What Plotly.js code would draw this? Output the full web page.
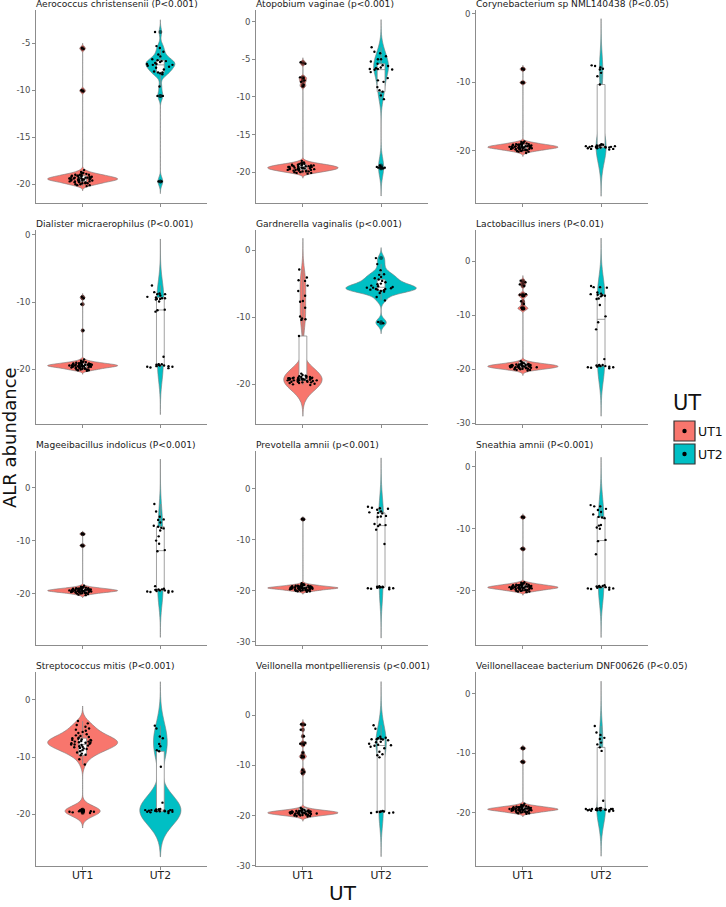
<!DOCTYPE html>
<html><head><meta charset="utf-8">
<script src="https://cdn.plot.ly/plotly-3.0.1.min.js"></script>
<style>html,body{margin:0;padding:0;background:#fff}</style>
</head><body><div id="chart" style="width:726px;height:907px"></div>
<script>
const titles = [
  "Aerococcus christensenii (P<0.001)", "Atopobium vaginae (p<0.001)", "Corynebacterium sp NML140438 (P<0.05)",
  "Dialister micraerophilus (P<0.001)", "Gardnerella vaginalis (p<0.001)", "Lactobacillus iners (P<0.01)",
  "Mageeibacillus indolicus (P<0.001)", "Prevotella amnii (p<0.001)", "Sneathia amnii (P<0.001)",
  "Streptococcus mitis (P<0.001)", "Veillonella montpellierensis (p<0.001)", "Veillonellaceae bacterium DNF00626 (P<0.05)"
];
const groups = ["UT1", "UT2"];

const ut1_1 = [-5.5,-5.6,-10.0,-10.1,-18.5,-18.7,-18.8,-18.8,-18.9,-18.9,-19.0,-19.0,-19.0,-19.1,-19.1,-19.1,-19.1,-19.2,-19.2,-19.2,-19.2,-19.3,-19.3,-19.3,-19.3,-19.3,-19.4,-19.4,-19.4,-19.4,-19.4,-19.4,-19.5,-19.5,-19.5,-19.5,-19.5,-19.5,-19.6,-19.6,-19.6,-19.6,-19.6,-19.7,-19.7,-19.7,-19.7,-19.8,-19.8,-19.8,-19.9,-19.9,-19.9,-20.0,-20.0,-20.1,-20.1,-20.2];
const ut1_2 = [-5.4,-5.6,-7.4,-7.5,-7.8,-8.0,-8.4,-8.6,-18.5,-18.7,-18.8,-18.8,-18.9,-18.9,-19.0,-19.0,-19.0,-19.1,-19.1,-19.1,-19.1,-19.2,-19.2,-19.2,-19.2,-19.3,-19.3,-19.3,-19.3,-19.4,-19.4,-19.4,-19.4,-19.4,-19.5,-19.5,-19.5,-19.5,-19.5,-19.6,-19.6,-19.6,-19.6,-19.7,-19.7,-19.7,-19.7,-19.8,-19.8,-19.8,-19.9,-19.9,-19.9,-20.0,-20.0,-20.1,-20.1,-20.2];
const ut1_3 = [-8.0,-8.1,-10.0,-10.05,-18.6,-18.7,-18.8,-18.8,-18.9,-18.9,-19.0,-19.0,-19.0,-19.1,-19.1,-19.1,-19.1,-19.2,-19.2,-19.2,-19.2,-19.3,-19.3,-19.3,-19.3,-19.3,-19.4,-19.4,-19.4,-19.4,-19.4,-19.4,-19.5,-19.5,-19.5,-19.5,-19.5,-19.5,-19.6,-19.6,-19.6,-19.6,-19.6,-19.7,-19.7,-19.7,-19.7,-19.8,-19.8,-19.8,-19.9,-19.9,-19.9,-20.0,-20.0,-20.1,-20.1,-20.3];
const ut1_4 = [-9.2,-9.4,-10.3,-14.2,-18.5,-18.7,-18.8,-18.9,-18.9,-18.9,-19.0,-19.0,-19.1,-19.1,-19.1,-19.1,-19.2,-19.2,-19.2,-19.2,-19.3,-19.3,-19.3,-19.3,-19.3,-19.3,-19.4,-19.4,-19.4,-19.4,-19.4,-19.5,-19.5,-19.5,-19.5,-19.5,-19.5,-19.6,-19.6,-19.6,-19.6,-19.6,-19.7,-19.7,-19.7,-19.7,-19.8,-19.8,-19.8,-19.9,-19.9,-20.0,-20.0,-20.0,-20.1,-20.1,-20.2,-19.4];
const ut1_5 = [-2.9,-4.1,-4.5,-4.6,-5.3,-6.1,-6.8,-7.6,-7.7,-8.6,-9.9,-10.2,-10.3,-10.4,-12.8,-18.4,-18.6,-18.7,-18.8,-18.8,-18.9,-18.9,-19.0,-19.0,-19.0,-19.1,-19.1,-19.1,-19.1,-19.2,-19.2,-19.2,-19.2,-19.2,-19.3,-19.3,-19.3,-19.3,-19.3,-19.4,-19.4,-19.4,-19.4,-19.5,-19.5,-19.5,-19.6,-19.6,-19.6,-19.7,-19.7,-19.8,-19.8,-19.9,-20.0,-20.1,-19.2,-19.0];
const ut1_6 = [-3.6,-3.9,-4.3,-4.6,-6.1,-6.2,-6.4,-6.4,-7.4,-7.9,-8.6,-8.7,-8.8,-8.8,-18.5,-18.7,-18.8,-18.9,-19.0,-19.0,-19.0,-19.1,-19.1,-19.1,-19.2,-19.2,-19.2,-19.3,-19.3,-19.3,-19.3,-19.4,-19.4,-19.4,-19.4,-19.4,-19.5,-19.5,-19.5,-19.5,-19.5,-19.6,-19.6,-19.6,-19.6,-19.7,-19.7,-19.7,-19.8,-19.8,-19.8,-19.9,-19.9,-20.0,-20.0,-20.1,-20.1,-20.2];
const ut1_7 = [-8.7,-8.8,-10.9,-11.0,-18.5,-18.7,-18.8,-18.8,-18.9,-18.9,-19.0,-19.0,-19.0,-19.1,-19.1,-19.1,-19.1,-19.2,-19.2,-19.2,-19.2,-19.3,-19.3,-19.3,-19.3,-19.3,-19.4,-19.4,-19.4,-19.4,-19.4,-19.4,-19.5,-19.5,-19.5,-19.5,-19.5,-19.5,-19.6,-19.6,-19.6,-19.6,-19.6,-19.7,-19.7,-19.7,-19.7,-19.8,-19.8,-19.8,-19.9,-19.9,-19.9,-20.0,-20.0,-20.1,-20.2,-20.3];
const ut1_8 = [-5.9,-6.0,-18.5,-18.7,-18.8,-18.8,-18.9,-18.9,-19.0,-19.0,-19.0,-19.1,-19.1,-19.1,-19.1,-19.2,-19.2,-19.2,-19.2,-19.3,-19.3,-19.3,-19.3,-19.3,-19.4,-19.4,-19.4,-19.4,-19.4,-19.4,-19.5,-19.5,-19.5,-19.5,-19.5,-19.5,-19.6,-19.6,-19.6,-19.6,-19.6,-19.7,-19.7,-19.7,-19.7,-19.8,-19.8,-19.8,-19.9,-19.9,-19.9,-20.0,-20.0,-20.1,-20.1,-20.2,-19.4,-19.5];
const ut1_9 = [-8.1,-8.2,-13.2,-13.3,-18.6,-18.7,-18.8,-18.8,-18.9,-18.9,-19.0,-19.0,-19.0,-19.1,-19.1,-19.1,-19.1,-19.2,-19.2,-19.2,-19.2,-19.3,-19.3,-19.3,-19.3,-19.3,-19.4,-19.4,-19.4,-19.4,-19.4,-19.4,-19.5,-19.5,-19.5,-19.5,-19.5,-19.5,-19.6,-19.6,-19.6,-19.6,-19.6,-19.7,-19.7,-19.7,-19.7,-19.8,-19.8,-19.8,-19.9,-19.9,-19.9,-20.0,-20.0,-20.1,-20.1,-20.2];
const ut1_10 = [-19.2,-19.3,-19.4,-19.4,-19.5,-19.5,-19.5,-19.6,-19.6,-19.7,-19.8,-19.3,-11.3,-10.4,-9.7,-9.6,-9.4,-9.2,-9.0,-8.8,-8.6,-8.5,-8.4,-8.3,-8.2,-8.1,-8.0,-7.9,-7.8,-7.8,-7.7,-7.6,-7.5,-7.5,-7.4,-7.3,-7.3,-7.2,-7.1,-7.0,-7.0,-6.9,-6.8,-6.7,-6.6,-6.5,-6.3,-6.2,-6.0,-5.8,-5.6,-5.4,-5.2,-5.0,-4.7,-4.4,-4.1,-3.7];
const ut1_11 = [-1.8,-1.9,-2.9,-4.2,-5.5,-5.7,-5.9,-7.5,-8.1,-8.3,-8.4,-10.9,-11.3,-11.6,-18.5,-18.7,-18.8,-18.9,-19.0,-19.0,-19.0,-19.1,-19.1,-19.1,-19.2,-19.2,-19.2,-19.3,-19.3,-19.3,-19.3,-19.4,-19.4,-19.4,-19.4,-19.4,-19.5,-19.5,-19.5,-19.5,-19.5,-19.6,-19.6,-19.6,-19.6,-19.7,-19.7,-19.7,-19.8,-19.8,-19.8,-19.9,-19.9,-20.0,-20.0,-20.1,-20.1,-20.2];
const ut1_12 = [-9.1,-9.2,-11.4,-11.5,-18.5,-18.7,-18.8,-18.8,-18.9,-18.9,-19.0,-19.0,-19.0,-19.1,-19.1,-19.1,-19.1,-19.2,-19.2,-19.2,-19.2,-19.3,-19.3,-19.3,-19.3,-19.3,-19.4,-19.4,-19.4,-19.4,-19.4,-19.4,-19.5,-19.5,-19.5,-19.5,-19.5,-19.5,-19.6,-19.6,-19.6,-19.6,-19.6,-19.7,-19.7,-19.7,-19.7,-19.8,-19.8,-19.8,-19.9,-19.9,-19.9,-20.0,-20.0,-20.1,-20.1,-20.2];

const ut2_1 = [-3.8,-5.3,-5.5,-5.9,-6.2,-6.4,-6.7,-6.8,-6.9,-6.9,-7.0,-7.1,-7.2,-7.3,-7.3,-7.4,-7.5,-7.6,-7.8,-8.0,-8.1,-8.1,-8.2,-8.3,-9.6,-10.6,-10.6,-19.7,-19.7,-7.2];
const ut2_2 = [-3.4,-4.0,-4.2,-4.6,-5.0,-5.0,-5.3,-5.6,-5.8,-5.9,-6.1,-6.2,-6.3,-6.3,-6.35,-6.4,-6.7,-7.5,-7.8,-8.0,-8.7,-9.1,-9.3,-9.8,-10.3,-19.1,-19.3,-19.4,-19.4,-19.5];
const ut2_3 = [-7.5,-7.6,-7.8,-8.0,-8.1,-8.6,-9.1,-10.3,-19.0,-19.1,-19.1,-19.2,-19.2,-19.3,-19.3,-19.3,-19.4,-19.4,-19.4,-19.4,-19.5,-19.5,-19.5,-19.6,-19.6,-19.7,-19.7,-19.8,-19.3,-19.5];
const ut2_4 = [-18.1,-19.2,-19.2,-19.3,-19.3,-19.4,-19.4,-19.5,-19.5,-19.6,-19.6,-19.7,-19.8,-11.4,-11.2,-11.1,-9.9,-9.6,-9.5,-9.5,-9.4,-9.4,-9.3,-9.2,-9.0,-8.8,-8.8,-8.7,-8.5,-7.5];
const ut2_5 = [-10.9,-10.7,-7.5,-7.0,-6.4,-6.2,-6.1,-6.0,-5.9,-5.9,-5.8,-5.8,-5.7,-5.6,-5.6,-5.5,-5.4,-5.3,-5.1,-5.0,-4.8,-4.6,-4.4,-4.2,-4.0,-3.7,-3.6,-3.0,-2.1,-1.2];
const ut2_6 = [-19.2,-19.3,-19.3,-19.4,-19.4,-19.5,-19.5,-19.6,-19.6,-19.7,-19.8,-19.2,-18.1,-12.6,-11.3,-10.2,-8.1,-7.0,-6.9,-6.5,-6.4,-6.3,-6.2,-6.1,-6.0,-5.8,-4.9,-4.8,-4.8,-4.6];
const ut2_7 = [-18.6,-19.1,-19.2,-19.2,-19.3,-19.3,-19.4,-19.4,-19.5,-19.5,-19.6,-19.6,-19.7,-19.8,-12.0,-11.8,-10.6,-10.0,-9.2,-8.1,-7.7,-7.6,-7.4,-7.2,-6.6,-6.1,-6.0,-5.5,-4.5,-3.1];
const ut2_8 = [-19.1,-19.2,-19.2,-19.3,-19.3,-19.4,-19.4,-19.5,-19.5,-19.6,-19.7,-19.3,-10.8,-8.0,-7.3,-7.1,-7.0,-6.9,-5.5,-5.4,-5.3,-4.8,-4.7,-4.6,-4.4,-4.1,-3.9,-3.8,-3.7,-3.5];
const ut2_9 = [-19.1,-19.2,-19.2,-19.3,-19.3,-19.4,-19.4,-19.5,-19.5,-19.6,-19.6,-19.7,-19.8,-14.1,-12.0,-11.8,-10.0,-9.8,-9.5,-9.4,-8.3,-8.2,-8.1,-7.7,-7.3,-7.0,-6.8,-6.4,-6.4,-6.2];
const ut2_10 = [-18.0,-19.1,-19.2,-19.2,-19.2,-19.3,-19.3,-19.3,-19.3,-19.4,-19.4,-19.4,-19.4,-19.5,-19.5,-19.5,-19.5,-19.6,-19.6,-19.7,-19.8,-11.7,-9.0,-8.8,-8.1,-7.7,-6.7,-6.4,-5.0,-4.5];
const ut2_11 = [-19.1,-19.2,-19.2,-19.3,-19.3,-19.4,-19.5,-19.5,-8.4,-8.0,-7.8,-7.3,-6.6,-6.3,-6.1,-6.0,-5.9,-5.7,-5.4,-5.3,-5.0,-4.85,-4.8,-4.8,-4.7,-4.6,-4.5,-4.3,-2.7,-2.0];
const ut2_12 = [-18.0,-19.2,-19.3,-19.3,-19.4,-19.4,-19.4,-19.5,-19.5,-19.5,-19.5,-19.6,-19.6,-19.6,-19.7,-19.7,-19.8,-19.3,-19.4,-19.5,-19.6,-9.6,-9.0,-8.5,-8.2,-7.6,-7.4,-6.9,-6.5,-5.4];

const yRanges = [[-22.0,-1.46],[-24.1,1.55],[-27.6,0.58],[-28.1,0.74],[-25.9,2.98],[-30.1,5.76],
                 [-29.7,6.9],[-30.65,7.45],[-28.7,2.5],[-29.1,4.9],[-30.05,8.6],[-29.0,3.7]];
const yTicks = [[-20,-15,-10,-5],[-20,-15,-10,-5,0],[-20,-10,0],[-20,-10,0],[-20,-10,0],[-30,-20,-10,0],
                [-20,-10,0],[-30,-20,-10,0],[-20,-10,0],[-20,-10,0],[-30,-20,-10,0],[-20,-10,0]];

const UT1 = [ut1_1,ut1_2,ut1_3,ut1_4,ut1_5,ut1_6,ut1_7,ut1_8,ut1_9,ut1_10,ut1_11,ut1_12];
const UT2 = [ut2_1,ut2_2,ut2_3,ut2_4,ut2_5,ut2_6,ut2_7,ut2_8,ut2_9,ut2_10,ut2_11,ut2_12];
const fills = {UT1: "#F8766D", UT2: "#00BFC4"};

function q7(s, p){ const h=(s.length-1)*p, lo=Math.floor(h), hi=Math.min(lo+1,s.length-1); return s[lo]+(h-lo)*(s[hi]-s[lo]); }
function nrd0(v){
  const n=v.length, m=v.reduce((a,b)=>a+b,0)/n;
  const sd=Math.sqrt(v.reduce((a,b)=>a+(b-m)*(b-m),0)/(n-1));
  const s=[...v].sort((a,b)=>a-b);
  let lo=Math.min(sd,(q7(s,0.75)-q7(s,0.25))/1.34);
  if(!lo) lo = sd || Math.abs(s[0]) || 1;
  return 0.9*lo*Math.pow(n,-0.2);
}
function kdePeak(v, bw, span){
  const n=Math.ceil((span[1]-span[0])/(bw/3)), step=(span[1]-span[0])/n, f=1/(v.length*bw*Math.sqrt(2*Math.PI));
  let best=0;
  for(let k=0;k<=n;k++){ const t=span[0]+k*step; let s=0; for(const x of v){ const u=(t-x)/bw; s+=Math.exp(-0.5*u*u);} best=Math.max(best,f*s); }
  return best;
}

const W=726, H=907;
const colL=[36,256,476], colR=[207,428,648];
const rowT=[10,230,451,672], rowB=[203,424,645,866];
const axisCol="#8c8c8c";

const violins=[], boxes=[], jits=[];
const layout = {
  width:W, height:H, margin:{l:0,r:0,t:0,b:0}, paper_bgcolor:"#fff", plot_bgcolor:"#fff",
  font:{family:"DejaVu Sans", color:"#222"}, showlegend:false, hovermode:false,
  violinmode:"overlay", boxmode:"overlay", annotations:[], shapes:[]
};

for(let i=0;i<12;i++){
  const r=Math.floor(i/3), c=i%3, k=i+1;
  const xa = k===1?"x":"x"+k, ya = k===1?"y":"y"+k;
  layout[k===1?"xaxis":"xaxis"+k] = {
    domain:[colL[c]/W, colR[c]/W], anchor:ya, type:"category", categoryorder:"array", categoryarray:groups,
    range:[-0.6,1.6], showline:true, linecolor:axisCol, linewidth:1, ticks:"outside", ticklen:3, tickcolor:axisCol,
    showgrid:false, zeroline:false, showticklabels:r===3, tickfont:{size:10.8,color:"#222"},
    ticklabelstandoff:-4, fixedrange:true
  };
  layout[k===1?"yaxis":"yaxis"+k] = {
    domain:[1-rowB[r]/H, 1-rowT[r]/H], anchor:xa, range:yRanges[i], tickmode:"array",
    tickvals:yTicks[i], ticktext:yTicks[i].map(String), showline:true, linecolor:axisCol, linewidth:1,
    ticks:"outside", ticklen:3, tickcolor:axisCol, showgrid:false, zeroline:false,
    tickfont:{size:8.5,color:"#4d4d4d"}, fixedrange:true
  };
  layout.annotations.push({text:titles[i].replace(/</g,"&lt;"), x:(colL[c]-2)/W, y:1-(rowT[r]-6)/H,
    xref:"paper", yref:"paper", xanchor:"left", yanchor:"middle", showarrow:false,
    font:{size:9.1,color:"#1a1a1a"}});
  const info = groups.map((g,gi)=>{
    const vals = gi===0?UT1[i]:UT2[i];
    const bw = nrd0(vals);
    const span=[Math.min(...vals)-3*bw, Math.max(...vals)+3*bw];
    return {g, vals, bw, span, peak:kdePeak(vals,bw,span)};
  });
  const pmax = Math.max(...info.map(d=>d.peak));
  info.forEach(d=>{
    const g=d.g, vals=d.vals;
    violins.push({type:"violin", x0:g, y:vals, xaxis:xa, yaxis:ya, width:0.9*d.peak/pmax, scalemode:"width",
      bandwidth:d.bw, spanmode:"manual", span:d.span, points:false, box:{visible:false},
      meanline:{visible:false}, fillcolor:fills[g], line:{color:"#7a7a7a",width:0.6}, hoverinfo:"skip"});
    boxes.push({type:"box", x0:g, y:vals, xaxis:xa, yaxis:ya, width:0.1, boxpoints:"outliers", pointpos:0, jitter:0,
      whiskerwidth:0, fillcolor:"#ffffff", line:{color:"#8a8a8a",width:0.8},
      marker:{color:"rgba(0,0,0,0.5)", size:4, line:{width:0}}, hoverinfo:"skip"});
    jits.push({type:"box", x0:g, y:vals, xaxis:xa, yaxis:ya, width:0.4, boxpoints:"all", pointpos:0, jitter:1,
      whiskerwidth:0, fillcolor:"rgba(0,0,0,0)", line:{color:"rgba(0,0,0,0)",width:0},
      marker:{color:"#000", size:2.4}, hoverinfo:"skip"});
  });
}

// axis titles
layout.annotations.push({text:"ALR abundance", textangle:-90, x:9/W, y:1-438/H, xref:"paper", yref:"paper",
  xanchor:"center", yanchor:"middle", showarrow:false, font:{size:18,color:"#111"}});
layout.annotations.push({text:"UT", x:343/W, y:0, xref:"paper", yref:"paper",
  xanchor:"center", yanchor:"bottom", showarrow:false, font:{size:20,color:"#111"}});
// legend
layout.annotations.push({text:"UT", x:671/W, y:1-403/H, xref:"paper", yref:"paper", xanchor:"left",
  yanchor:"middle", showarrow:false, font:{size:21,color:"#111"}});
groups.forEach((g,gi)=>{
  const top = 421 + gi*23;
  layout.shapes.push({type:"rect", xref:"paper", yref:"paper", x0:674/W, x1:695/W, y0:1-(top+20)/H, y1:1-top/H,
    fillcolor:fills[g], line:{color:"#333",width:1.2}});
  layout.shapes.push({type:"circle", xref:"paper", yref:"paper", x0:682.3/W, x1:686.7/W,
    y0:1-(top+12.2)/H, y1:1-(top+7.8)/H, fillcolor:"#000", line:{width:0}});
  layout.annotations.push({text:g, x:696/W, y:1-(top+10)/H, xref:"paper", yref:"paper", xanchor:"left",
    yanchor:"middle", showarrow:false, font:{size:12.5,color:"#111"}});
});

Plotly.newPlot("chart", violins.concat(boxes, jits), layout, {staticPlot:true});
</script></body></html>
